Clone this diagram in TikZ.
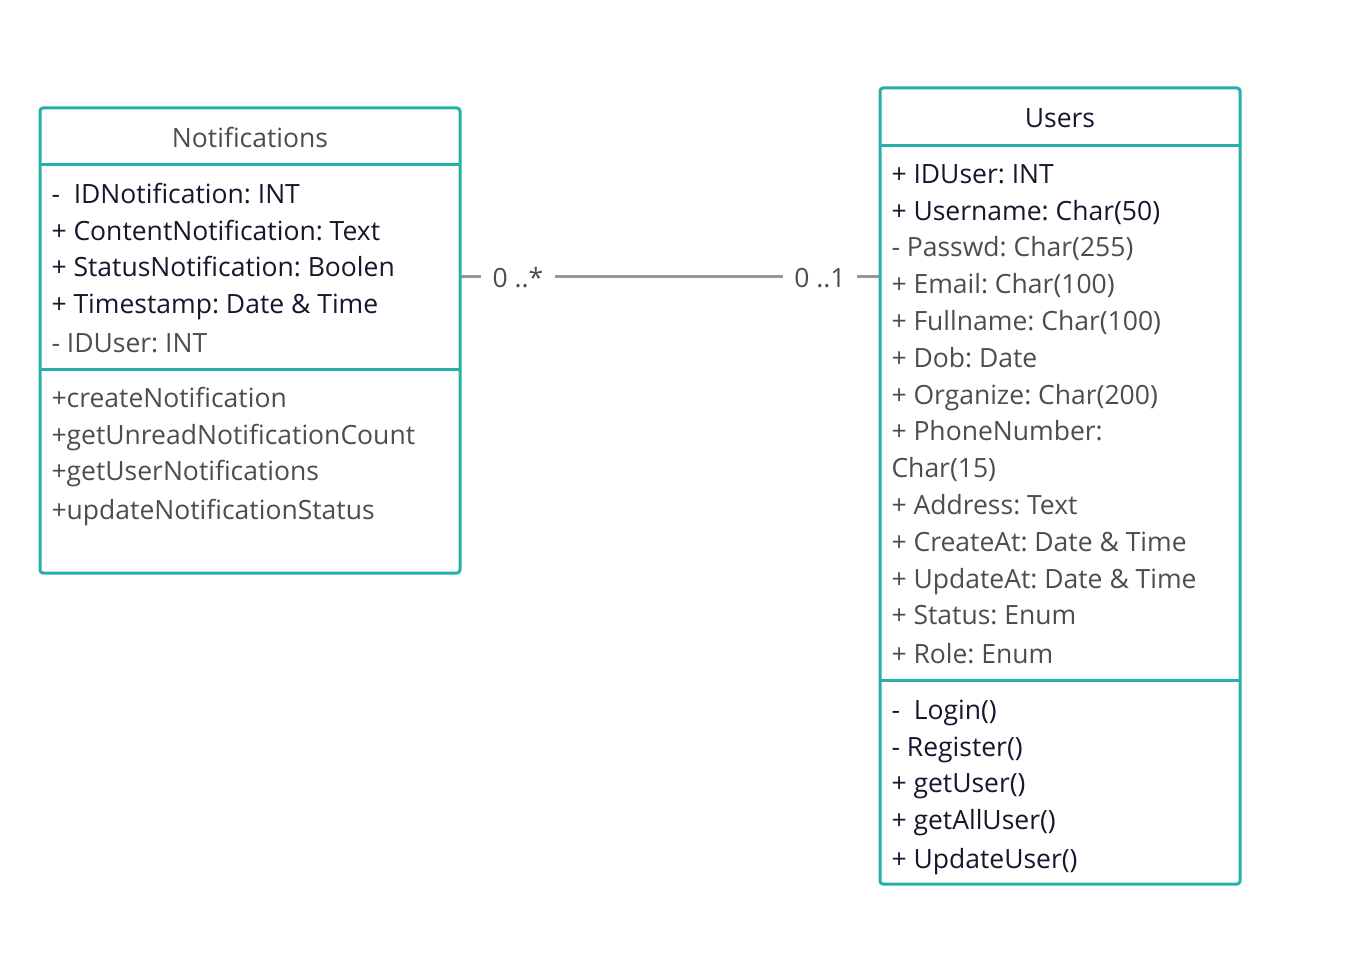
\documentclass[tikz,border=0pt]{standalone}
\usepackage{fontspec}
\setmainfont{Open Sans}
\frenchspacing
\usetikzlibrary{calc,positioning}
\definecolor{umlteal}{RGB}{38,176,170}
\definecolor{conngray}{RGB}{150,150,150}
\definecolor{txtdark}{RGB}{22,22,44}
\definecolor{txtgray}{RGB}{77,77,77}

\begin{document}
\begin{tikzpicture}[x=1pt,y=-1pt,line width=3pt,
  box/.style={draw=umlteal,rounded corners=3pt},
  sep/.style={draw=umlteal},
  conn/.style={draw=conngray},
  row/.style={anchor=base west,inner sep=0pt,font=\fontsize{26.5}{30}\selectfont},
  title/.style={anchor=base,inner sep=0pt,font=\fontsize{26.5}{30}\selectfont},
  mult/.style={inner xsep=10pt,inner ysep=0pt,text=txtgray,font=\fontsize{26.5}{30}\selectfont}]
\useasboundingbox (0,0) rectangle (1372,955);
\coordinate (N0) at (40,108);
\coordinate (N1) at (460,573);
\coordinate (NH) at (40,164);
\coordinate (NM) at (40,369);
\coordinate (U0) at (880,88);
\coordinate (U1) at (1240,884);
\coordinate (UH) at (880,145);
\coordinate (UM) at (880,680);
%the association
\coordinate (NRight) at (460,276);
\coordinate (ULeft) at (880,276);
\node[mult] (MulN) at (518,278) {0 ..*};
\node[mult] (MulU) at (820,278) {0 ..1};
\draw[conn] (NRight) -- (MulN.west |- NRight);
\draw[conn] (MulN.east |- NRight) -- (MulU.west |- NRight);
\draw[conn] (MulU.east |- NRight) -- (ULeft);
%notifications
\draw[box] (N0) rectangle (N1);
\draw[sep] (NH) -- (NH -| N1);
\draw[sep] (NM) -- (NM -| N1);
\node[title,text=txtgray] (NTitle) at (250,147) {Notifications};
\foreach \y/\txt/\col [count=\k] in {203/-\ \ IDNotification: INT/txtdark,
    240/+ ContentNotification: Text/txtdark,
    276/+ StatusNotification: Boolen/txtdark,
    313/+ Timestamp: Date \& Time/txtdark,
    352/- IDUser: INT/txtgray} {
    \node[row,text=\col] (NAttr\k) at (50,\y) {\txt};
}
\foreach \y/\txt [count=\k] in {407/+createNotification,
    444/+getUnreadNotificationCount,
    480/+getUserNotifications,
    519/+updateNotificationStatus} {
    \node[row,text=txtgray] (NOp\k) at (50,\y) {\txt};
}
%users
\draw[box] (U0) rectangle (U1);
\draw[sep] (UH) -- (UH -| U1);
\draw[sep] (UM) -- (UM -| U1);
\node[title,text=txtdark] (UTitle) at (1060,128) {Users};
\foreach \y/\txt/\col [count=\k] in {183/+ IDUser: INT/txtdark,
    220/+ Username: Char(50)/txtdark,
    256/- Passwd: Char(255)/txtgray,
    293/+ Email: Char(100)/txtgray,
    330/+ Fullname: Char(100)/txtgray,
    367/+ Dob: Date/txtgray,
    404/+ Organize: Char(200)/txtgray,
    440/+ PhoneNumber:/txtgray,
    477/Char(15)/txtgray,
    514/+ Address: Text/txtgray,
    551/+ CreateAt: Date \& Time/txtgray,
    588/+ UpdateAt: Date \& Time/txtgray,
    624/+ Status: Enum/txtgray,
    663/+ Role: Enum/txtgray} {
    \node[row,text=\col] (UAttr\k) at (890,\y) {\txt};
}
\foreach \y/\txt [count=\k] in {719/-\ \ Login(),
    756/- Register(),
    792/+ getUser(),
    829/+ getAllUser(),
    868/+ UpdateUser()} {
    \node[row,text=txtdark] (UOp\k) at (890,\y) {\txt};
}
\end{tikzpicture}
\end{document}
